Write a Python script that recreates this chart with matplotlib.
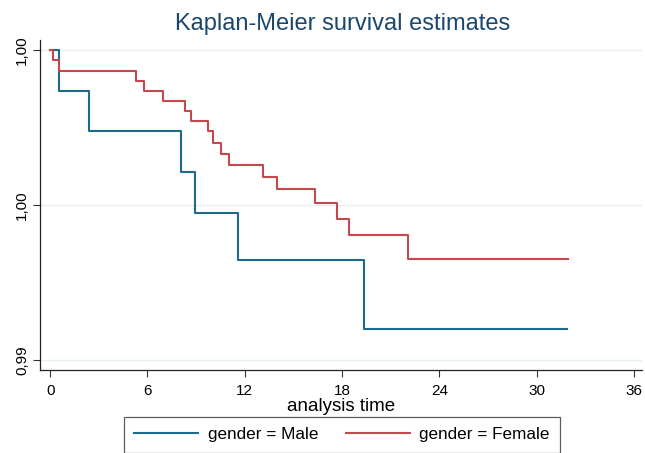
import numpy as np
import matplotlib.pyplot as plt
from matplotlib.ticker import FuncFormatter

plt.rcParams['font.family'] = ['Liberation Sans', 'DejaVu Sans']

# step times and survival levels
male_t = [0, 0.56, 2.40, 8.07, 8.9, 11.56, 19.35, 31.9]
male_s = [1.0, 0.99869, 0.99740, 0.99607, 0.99473, 0.99322, 0.99099, 0.99099]

female_t = [0, 0.19, 0.56, 5.28, 5.81, 6.96, 8.30, 8.71, 9.72, 10.03, 10.56,
            11.02, 13.14, 14.0, 16.36, 17.66, 18.43, 22.09, 31.95]
female_s = [1.0, 0.99966, 0.99932, 0.99900, 0.99868, 0.99835, 0.99802, 0.99770,
            0.99738, 0.99701, 0.99666, 0.99629, 0.99590, 0.99550, 0.99506,
            0.99455, 0.99403, 0.99327, 0.99327]

xticks = [0, 6, 12, 18, 24, 30, 36]
yticks = [0.99, 0.995, 1.0]

blue = '#1d6a8d'
red = '#c4484e'
navy = '#1a476f'

fig = plt.figure(figsize=(6.45, 4.53), dpi=100)
ax = fig.add_axes([40/645, 1 - 370/453, 602/645, 330/453])

ax.step(male_t, male_s, where='post', color=blue, lw=1.5, label='gender = Male')
ax.step(female_t, female_s, where='post', color=red, lw=1.5, label='gender = Female')

ax.set_xlim(-0.63, 36.5)
ax.set_ylim(0.98968, 1.00032)
ax.set_xticks(xticks)
ax.set_yticks(yticks)
# stata style: two decimals, comma separator, half rounds up
ax.yaxis.set_major_formatter(FuncFormatter(lambda v, p: f'{v + 1e-9:.2f}'.replace('.', ',')))
for lab in ax.get_yticklabels():
    lab.set_rotation(90)
    lab.set_va('center')
ax.tick_params(direction='out', length=5, width=0.8, labelsize=11, color='#333333')
ax.tick_params(axis='x', pad=5)
ax.tick_params(axis='y', pad=3)

ax.grid(axis='y', color='#e6f0f1', lw=1)
ax.set_axisbelow(True)
for s in ['top', 'right']:
    ax.spines[s].set_visible(False)
for s in ['left', 'bottom']:
    ax.spines[s].set_color('#222222')
    ax.spines[s].set_linewidth(0.9)

ax.set_xlabel('analysis time', fontsize=13.5, labelpad=0)
fig.text(343/645, 1 - 24/453, 'Kaplan-Meier survival estimates', ha='center', va='center',
         fontsize=17, color=navy)

leg = fig.legend(loc='upper center', bbox_to_anchor=(342/645, 1 - 417/453), ncol=2,
                 fontsize=12.3, frameon=True, fancybox=False, edgecolor='#333333',
                 handlelength=3.75, columnspacing=1.6, borderpad=0.6, handletextpad=0.55,
                 borderaxespad=0)
leg.get_frame().set_linewidth(0.9)

fig.savefig('out.png', dpi=100)
